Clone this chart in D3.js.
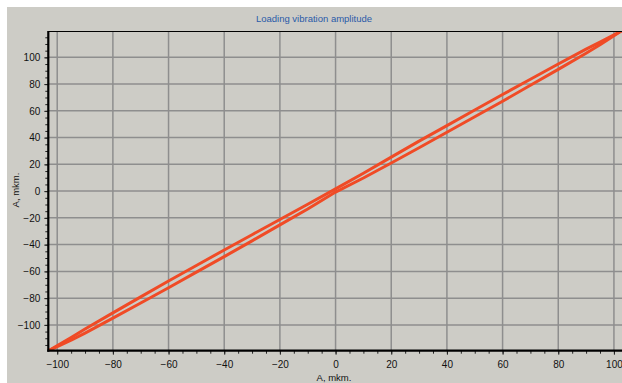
<!DOCTYPE html>
<html>
<head>
<meta charset="utf-8">
<script src="https://cdn.jsdelivr.net/npm/d3@7"></script>
<style>
  html, body { margin: 0; padding: 0; background: #ffffff; }
  svg { display: block; }
  text { font-family: "Liberation Sans", Arial, sans-serif; }
</style>
</head>
<body>
<svg id="chart" width="622" height="383"></svg>
<script>
// Loading vibration amplitude: hysteresis loop, A (mkm) vs A (mkm)
const title = "Loading vibration amplitude";
const xLabel = "A, mkm.";
const yLabel = "A, mkm.";

const xTicks = [-100, -80, -60, -40, -20, 0, 20, 40, 60, 80, 100];
const yTicks = [-100, -80, -60, -40, -20, 0, 20, 40, 60, 80, 100];

// rising branch (upper) and falling branch (lower) of the loop
const loopX     = [-103, -95, -90, -80, -70, -60, -50, -40, -30, -20, -10, 0, 10, 20, 30, 40, 50, 60, 70, 80, 90, 95, 102.5];
const upperY    = [-119.2, -109.4, -103.1, -91.0, -79.1, -67.2, -55.6, -44.0, -32.6, -21.2, -9.8, 1.7, 13.4, 25.4, 37.4, 49.0, 60.6, 72.2, 83.6, 95.0, 106.1, 111.4, 119.5];
const lowerY    = [-119.2, -111.4, -106.1, -95.0, -83.6, -72.2, -60.6, -49.0, -37.2, -25.2, -13.4, -0.7, 9.8, 21.0, 32.4, 44.0, 55.6, 67.2, 79.1, 91.0, 103.1, 109.4, 119.5];

const svg = d3.select("#chart");
const W = 622, H = 383;
const plot = { left: 48.3, right: 622, top: 31, bottom: 350.7 };

// panel background with thin white frame at top and left
svg.append("rect").attr("x", 0).attr("y", 0).attr("width", W).attr("height", H).attr("fill", "#ffffff");
svg.append("rect").attr("x", 7).attr("y", 7).attr("width", W - 7).attr("height", H - 7).attr("fill", "#cdccc6");

const x = d3.scaleLinear().domain([-103.2, 102.9]).range([plot.left, plot.right]);
const y = d3.scaleLinear().domain([-119.3, 119.7]).range([plot.bottom, plot.top]);

// grid
const grid = svg.append("g").attr("stroke", "#8e8e8e").attr("stroke-width", 1.5);
grid.selectAll("line.v").data(xTicks).join("line")
  .attr("x1", d => x(d)).attr("x2", d => x(d))
  .attr("y1", plot.top).attr("y2", plot.bottom);
grid.selectAll("line.h").data(yTicks).join("line")
  .attr("x1", plot.left).attr("x2", plot.right)
  .attr("y1", d => y(d)).attr("y2", d => y(d));

// clip for the loop
svg.append("clipPath").attr("id", "plotClip").append("rect")
  .attr("x", plot.left).attr("y", plot.top)
  .attr("width", plot.right - plot.left).attr("height", plot.bottom - plot.top);

const line = d3.line().x(d => x(d[0])).y(d => y(d[1])).curve(d3.curveLinear);
const upper = loopX.map((v, i) => [v, upperY[i]]);
const lower = loopX.map((v, i) => [v, lowerY[i]]);

const loop = svg.append("g").attr("clip-path", "url(#plotClip)");
[upper, lower].forEach(branch => {
  loop.append("path").datum(branch)
    .attr("d", line)
    .attr("fill", "none")
    .attr("stroke", "#f04b26")
    .attr("stroke-width", 3)
    .attr("stroke-linejoin", "round")
    .attr("stroke-linecap", "round");
});

// top frame line
svg.append("line").attr("x1", plot.left).attr("x2", plot.right)
  .attr("y1", plot.top + 0.5).attr("y2", plot.top + 0.5)
  .attr("stroke", "#000").attr("stroke-width", 1);

// bottom axis
const xAxis = d3.axisBottom(x).tickValues(xTicks).tickSize(4).tickPadding(6).tickFormat(d3.format("d"));
const xMinor = d3.axisBottom(x).tickValues(d3.range(-100, 101, 5)).tickSize(3).tickFormat("");
const gxm = svg.append("g").attr("transform", `translate(0,${plot.bottom})`).call(xMinor);
const gx = svg.append("g").attr("transform", `translate(0,${plot.bottom})`).call(xAxis);
[gx, gxm].forEach(g => {
  g.select(".domain").remove();
  g.selectAll(".tick line").attr("stroke", "#222").attr("stroke-width", 1);
});
gx.selectAll(".tick text").attr("font-size", 10).attr("fill", "#111");
svg.append("line").attr("x1", plot.left - 1).attr("x2", plot.right)
  .attr("y1", plot.bottom).attr("y2", plot.bottom)
  .attr("stroke", "#000").attr("stroke-width", 2.2);

// left axis
const yAxis = d3.axisLeft(y).tickValues(yTicks).tickSize(4).tickPadding(4).tickFormat(d3.format("d"));
const yMinor = d3.axisLeft(y).tickValues(d3.range(-115, 116, 5)).tickSize(3).tickFormat("");
const gym = svg.append("g").attr("transform", `translate(${plot.left},0)`).call(yMinor);
const gy = svg.append("g").attr("transform", `translate(${plot.left},0)`).call(yAxis);
[gy, gym].forEach(g => {
  g.select(".domain").remove();
  g.selectAll(".tick line").attr("stroke", "#222").attr("stroke-width", 1);
});
gy.selectAll(".tick text").attr("font-size", 10).attr("fill", "#111");
svg.append("line").attr("x1", plot.left).attr("x2", plot.left)
  .attr("y1", plot.top).attr("y2", plot.bottom + 1)
  .attr("stroke", "#000").attr("stroke-width", 2.2);

// titles
svg.append("text").attr("x", 314).attr("y", 22)
  .attr("text-anchor", "middle").attr("font-size", 9.5).attr("fill", "#2a5aa8")
  .text(title);
svg.append("text").attr("x", 334).attr("y", 381)
  .attr("text-anchor", "middle").attr("font-size", 9.5).attr("fill", "#111")
  .text(xLabel);
svg.append("text").attr("transform", "translate(19,190) rotate(-90)")
  .attr("text-anchor", "middle").attr("font-size", 9.5).attr("fill", "#111")
  .text(yLabel);
</script>
</body>
</html>
